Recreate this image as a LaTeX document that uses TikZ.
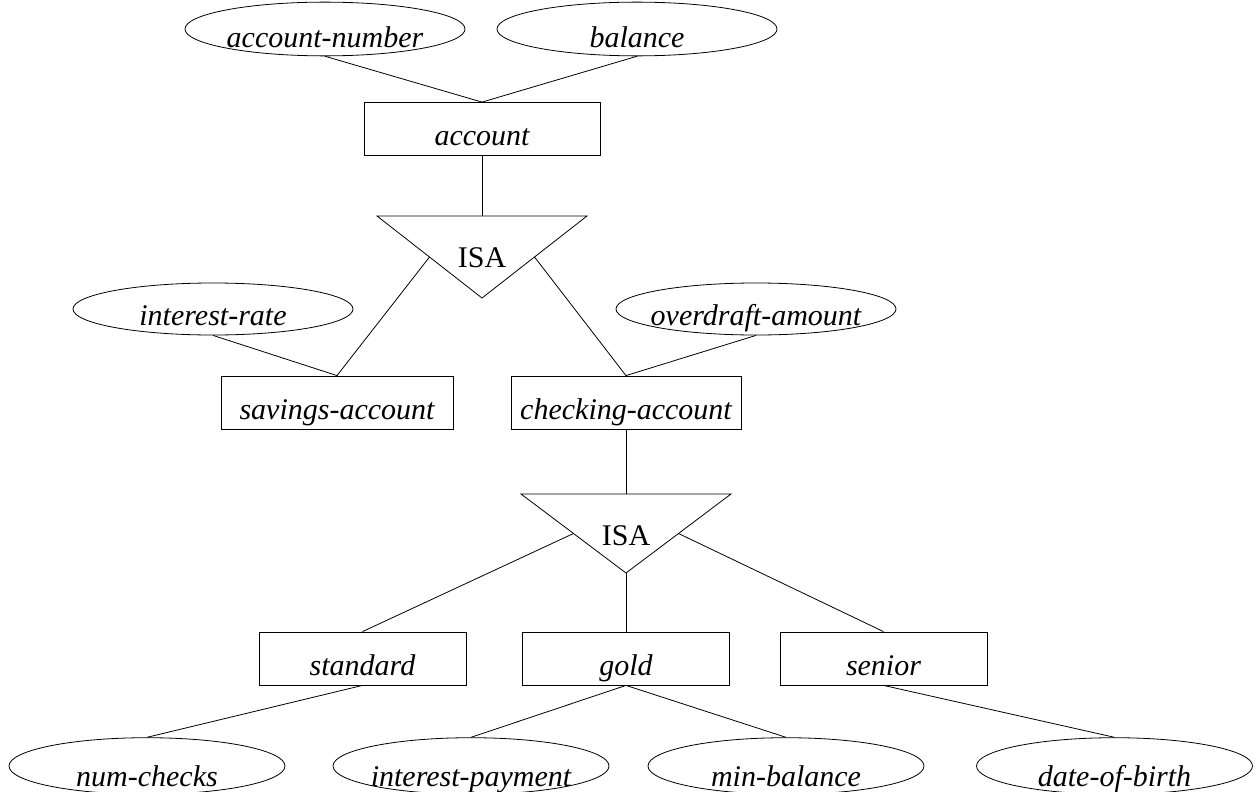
\documentclass[tikz,border=0pt]{standalone}
\usepackage{fontspec}
\setmainfont{Liberation Serif}
\usetikzlibrary{shapes.geometric,calc}
\newcommand{\erl}[1]{\makebox[0pt]{\itshape #1}}
\begin{document}
\begin{tikzpicture}[x=1pt,y=-1pt, line width=0.8pt,
  every node/.style={inner sep=0pt, font=\fontsize{30}{36}\selectfont},
  ent/.style={draw, rectangle, minimum height=53pt, text height=33pt, text depth=0pt},
  attr/.style={draw, ellipse, minimum width=280pt, minimum height=52pt, text height=32pt, text depth=0pt}
]
\useasboundingbox (0,0) rectangle (1259,792);
\clip (0,0) rectangle (1259,792);

% top attributes and account
\node[attr, minimum height=50pt, text height=38pt] (an) at (325,29) {\erl{account-number}};
\node[attr, minimum height=50pt, text height=38pt] (bal) at (637,29) {\erl{balance}};
\node[ent, minimum width=236pt] (acc) at (482,129) {\erl{account}};

% first ISA
\coordinate (t1a) at (377,216);
\coordinate (t1b) at (587,216);
\coordinate (t1c) at (482,298);
\draw (t1a) -- (t1b) -- (t1c) -- cycle;
\node[anchor=base] (isa1) at (482,267) {ISA};

% second level
\node[attr] (ir) at (213,309) {\erl{interest-rate}};
\node[attr] (od) at (756,309) {\erl{overdraft-amount}};
\node[ent, minimum width=232pt] (sav) at (337,402.5) {\erl{savings-account}};
\node[ent, minimum width=230pt] (chk) at (626,402.5) {\erl{checking-account}};

% second ISA
\coordinate (t2a) at (521,494);
\coordinate (t2b) at (731,494);
\coordinate (t2c) at (626,573);
\draw (t2a) -- (t2b) -- (t2c) -- cycle;
\node[anchor=base] (isa2) at (626,545) {ISA};

% third level
\node[ent, minimum width=207pt] (std) at (362.5,658.5) {\erl{standard}};
\node[ent, minimum width=207pt] (gold) at (626,658.5) {\erl{gold}};
\node[ent, minimum width=207pt] (sen) at (883.5,658.5) {\erl{senior}};

% bottom attributes
\node[attr, minimum width=276pt, minimum height=54pt, text height=40pt] (nc) at (147,766) {\erl{num-checks}};
\node[attr, minimum width=276pt, minimum height=54pt, text height=40pt] (ip) at (471,766) {\erl{interest-payment}};
\node[attr, minimum width=276pt, minimum height=54pt, text height=40pt] (mb) at (786,766) {\erl{min-balance}};
\node[attr, minimum width=276pt, minimum height=54pt, text height=40pt] (dob) at (1114.5,766) {\erl{date-of-birth}};

% connectors
\draw (an.south) -- (acc.north);
\draw (bal.south) -- (acc.north);
\draw (acc.south) -- (acc.south |- t1a);
\draw ($(t1a)!0.5!(t1c)$) -- (sav.north);
\draw ($(t1b)!0.5!(t1c)$) -- (chk.north);
\draw (ir.south) -- (sav.north);
\draw (od.south) -- (chk.north);
\draw (chk.south) -- (chk.south |- t2a);
\draw ($(t2a)!0.5!(t2c)$) -- (std.north);
\draw ($(t2b)!0.5!(t2c)$) -- (sen.north);
\draw (t2c) -- (gold.north);
\draw (std.south) -- (nc.north);
\draw (gold.south) -- (ip.north);
\draw (gold.south) -- (mb.north);
\draw (sen.south) -- (dob.north);
\end{tikzpicture}
\end{document}
